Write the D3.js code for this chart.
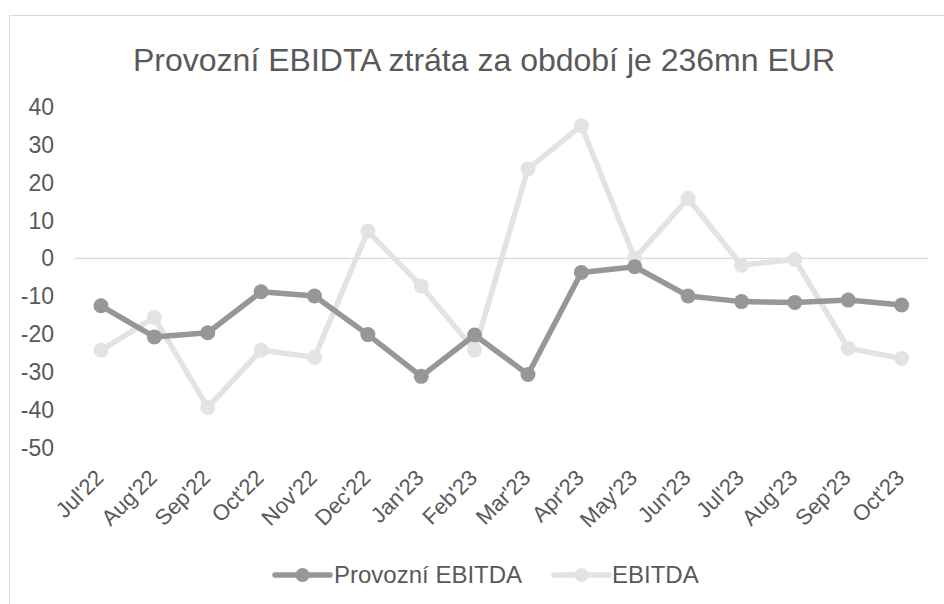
<!DOCTYPE html>
<html><head><meta charset="utf-8">
<script src="https://cdn.jsdelivr.net/npm/d3@7"></script>
<style>body{margin:0;background:#fff}svg{display:block}text{font-family:"Liberation Sans",Arial,sans-serif}</style>
</head><body><svg id="c" width="944" height="604"></svg>
<script>
const categories = ["Jul'22","Aug'22","Sep'22","Oct'22","Nov'22","Dec'22","Jan'23","Feb'23","Mar'23","Apr'23","May'23","Jun'23","Jul'23","Aug'23","Sep'23","Oct'23"];
const provozniEbitda = [-12.5,-20.7,-19.6,-8.8,-9.9,-20.1,-31.1,-20.2,-30.6,-3.7,-2.2,-9.9,-11.4,-11.6,-11.0,-12.3];
const ebitda = [-24.2,-15.6,-39.3,-24.2,-26.1,7.2,-7.3,-24.2,23.6,35.0,0,15.8,-1.8,-0.3,-23.7,-26.4];
const yTicks = [40,30,20,10,0,-10,-20,-30,-40,-50];
const seriesNames = ["Provozní EBITDA","EBITDA"];
const title = "Provozní EBIDTA ztráta za období je 236mn EUR";

const svg = d3.select("#c");
const C_DARK = "#979797", C_LIGHT = "#e3e3e3", C_TEXT = "#595959";
svg.append("rect").attr("x",9.5).attr("y",15.5).attr("width",1000).attr("height",1000)
  .attr("fill","none").attr("stroke","#d9d9d9").attr("stroke-width",1);

svg.append("text").attr("x",484).attr("y",71).attr("text-anchor","middle")
  .attr("font-size",32).attr("fill",C_TEXT).text(title);

const x = d3.scaleBand().domain(categories).range([74.3,928.3]);
const y = d3.scaleLinear().domain([-50,40]).range([448,106.7]);

// y labels
svg.append("g").selectAll("text").data(yTicks).join("text")
  .attr("x",54).attr("y",d=>y(d)).attr("dy","0.35em").attr("text-anchor","end")
  .attr("font-size",23).attr("fill",C_TEXT).text(d=>d);

// zero line
svg.append("line").attr("x1",x.range()[0]).attr("x2",x.range()[1])
  .attr("y1",y(0)).attr("y2",y(0)).attr("stroke","#d9d9d9").attr("stroke-width",1.3);

// x labels
svg.append("g").selectAll("text").data(categories).join("text")
  .attr("transform",d=>`translate(${x(d)+x.bandwidth()/2+4},479) rotate(-45)`)
  .attr("text-anchor","end").attr("font-size",22).attr("fill",C_TEXT).text(d=>d);

const line = d3.line().x((d,i)=>x(categories[i])+x.bandwidth()/2).y(d=>y(d));
function drawSeries(vals,color){
  const g = svg.append("g");
  g.append("path").attr("d",line(vals)).attr("fill","none").attr("stroke",color)
    .attr("stroke-width",5.5).attr("stroke-linejoin","round").attr("stroke-linecap","round");
  g.selectAll("circle").data(vals).join("circle")
    .attr("cx",(d,i)=>x(categories[i])+x.bandwidth()/2).attr("cy",d=>y(d)).attr("r",7.5).attr("fill",color);
}
drawSeries(ebitda,C_LIGHT);
drawSeries(provozniEbitda,C_DARK);

// legend
const leg = [{name:seriesNames[0],color:C_DARK,x:275,tx:334},{name:seriesNames[1],color:C_LIGHT,x:554,tx:612}];
const lg = svg.append("g");
leg.forEach(l=>{
  lg.append("line").attr("x1",l.x).attr("x2",l.x+55).attr("y1",575).attr("y2",575)
    .attr("stroke",l.color).attr("stroke-width",5.5).attr("stroke-linecap","round");
  lg.append("circle").attr("cx",l.x+27.5).attr("cy",575).attr("r",7).attr("fill",l.color);
  lg.append("text").attr("x",l.tx).attr("y",575).attr("dy","0.35em").attr("font-size",24)
    .attr("fill",C_TEXT).text(l.name);
});
</script></body></html>
